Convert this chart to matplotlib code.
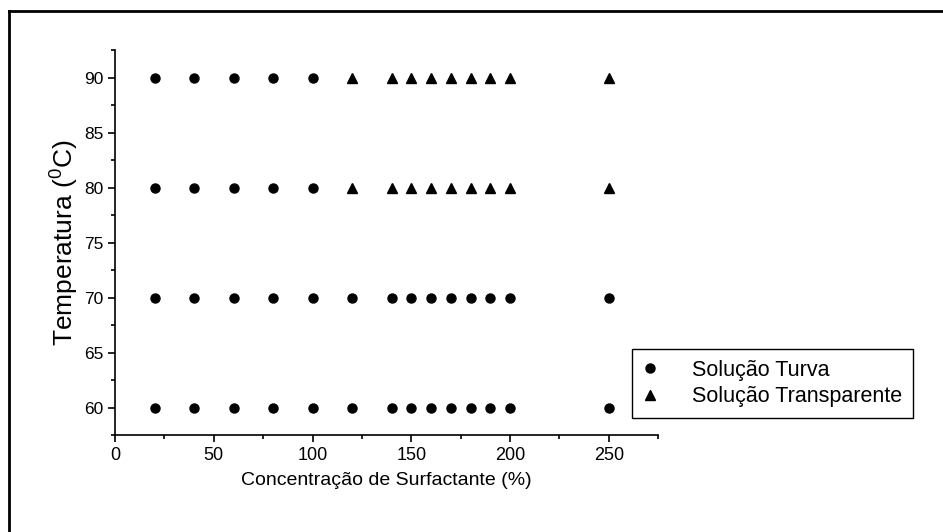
import matplotlib
matplotlib.use("Agg")
import matplotlib.pyplot as plt
from matplotlib.lines import Line2D
from matplotlib.ticker import MultipleLocator

plt.rcParams['font.family'] = ['Liberation Sans', 'DejaVu Sans']
plt.rcParams['mathtext.default'] = 'regular'

# Solução Turva (circles)
turva_x = [20, 40, 60, 80, 100, 120, 140, 150, 160, 170, 180, 190, 200, 250,
           20, 40, 60, 80, 100, 120, 140, 150, 160, 170, 180, 190, 200, 250,
           20, 40, 60, 80, 100,
           20, 40, 60, 80, 100]
turva_y = [60] * 14 + [70] * 14 + [80] * 5 + [90] * 5

# Solução Transparente (triangles)
transp_x = [120, 140, 150, 160, 170, 180, 190, 200, 250,
            120, 140, 150, 160, 170, 180, 190, 200, 250]
transp_y = [80] * 9 + [90] * 9

fig = plt.figure(figsize=(9.43, 5.32), dpi=100)
ax = fig.add_axes([0.122, 0.182, 0.576, 0.724])

ax.plot(turva_x, turva_y, 'o', color='black', markersize=6.5, label='Solução Turva')
ax.plot(transp_x, transp_y, '^', color='black', markersize=6.5, label='Solução Transparente')

ax.set_xlim(0, 275)
ax.set_ylim(57.5, 92.5)
ax.xaxis.set_major_locator(MultipleLocator(50))
ax.xaxis.set_minor_locator(MultipleLocator(25))
ax.yaxis.set_major_locator(MultipleLocator(5))
ax.yaxis.set_minor_locator(MultipleLocator(2.5))
ax.spines['top'].set_visible(False)
ax.spines['right'].set_visible(False)
for s in ['left', 'bottom']:
    ax.spines[s].set_linewidth(1.2)
ax.tick_params(which='major', direction='out', length=5, width=1.2)
ax.tick_params(which='minor', direction='out', length=3, width=1.2)
ax.tick_params(axis='x', labelsize=13)
ax.tick_params(axis='y', labelsize=12.5)

ax.set_xlabel('Concentração de Surfactante (%)', fontsize=14, labelpad=6)
ax.set_ylabel('Temperatura ($^0$C)', fontsize=19, labelpad=2)

leg = ax.legend(loc='lower left', bbox_to_anchor=(632 / 943, 1 - 418 / 532),
                bbox_transform=fig.transFigure, fontsize=15.5, fancybox=False,
                framealpha=1, edgecolor='black', handletextpad=1.6,
                borderpad=0.5, labelspacing=0.25, borderaxespad=0,
                handlelength=0.7)
leg.get_frame().set_linewidth(1.0)

# outer frame, only the left and top edges fall inside the image
fig.lines.append(Line2D([8.5 / 943, 8.5 / 943], [0, 1 - 10.5 / 532],
                        transform=fig.transFigure, color='black', linewidth=2))
fig.lines.append(Line2D([8.5 / 943, 1], [1 - 10.5 / 532, 1 - 10.5 / 532],
                        transform=fig.transFigure, color='black', linewidth=2))

fig.savefig('out.png', dpi=100)
